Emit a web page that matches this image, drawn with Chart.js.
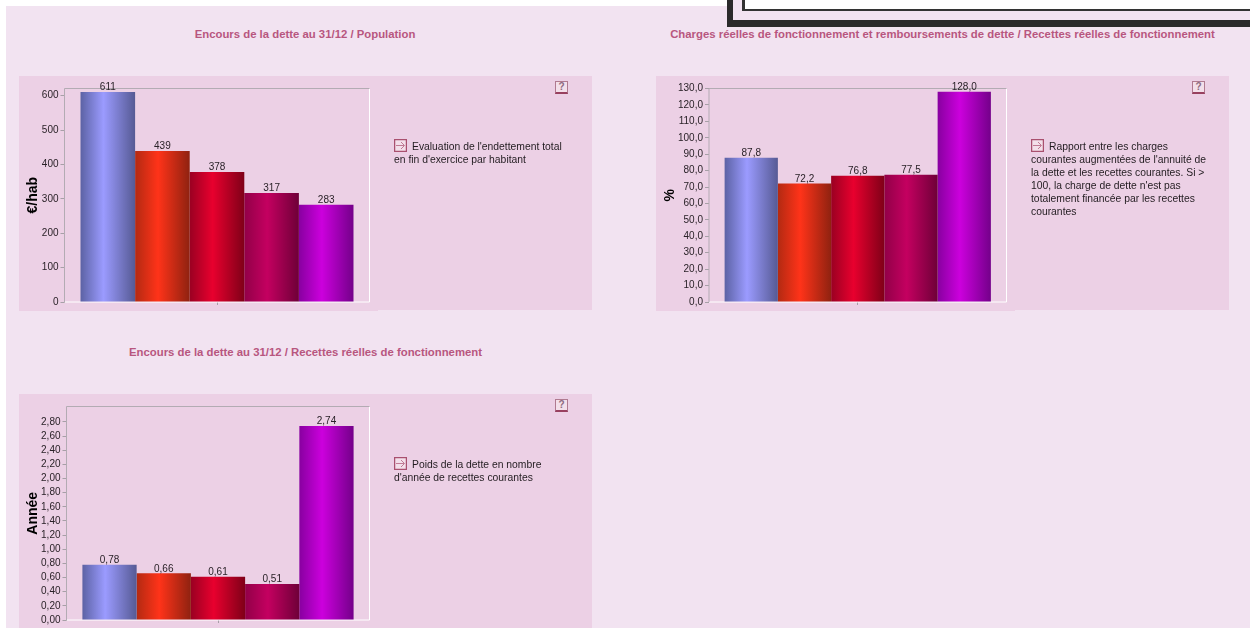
<!DOCTYPE html>
<html lang="fr">
<head>
<meta charset="utf-8">
<title>Dette</title>
<script src="https://cdn.jsdelivr.net/npm/chart.js@4"></script>
<style>
  html, body { margin: 0; background: #fff; }
  body { position: relative; width: 1250px; height: 628px; overflow: hidden; font-family: "Liberation Sans", Arial, sans-serif; }
  #page { position: absolute; left: 6px; top: 6px; width: 1244px; height: 622px; background: #f2e3f1; }
  .frame { position: absolute; box-sizing: border-box; border-style: solid; border-top: 0; border-right: 0; }
  #frameOuter { left: 727px; top: 0; width: 523px; height: 27px; border-width: 0 0 7px 6px; border-color: #2b2a2b; background: #f2e3f1; }
  #frameInner { left: 742px; top: 0; width: 508px; height: 11px; border-width: 0 0 2px 3px; border-color: #333; background: #fff; }
  .title { position: absolute; font-weight: bold; font-size: 11.35px; line-height: 14px; color: #b8567f; white-space: nowrap; transform: translateX(-50%); }
  .panel { position: absolute; width: 573px; background: #ecd0e5; }
  .panel::after { content: ""; position: absolute; left: 0; bottom: -1px; width: 359px; height: 1px; background: #ecd0e5; }
  .panel canvas { position: absolute; left: 0; top: 0; }
  .note { position: absolute; top: 63px; font-size: 10.35px; line-height: 12.9px; color: #221c20; white-space: nowrap; }
  .note svg { width: 13px; height: 13px; vertical-align: -2px; margin-right: 5px; }
  .help { position: absolute; top: 5px; box-sizing: border-box; width: 13px; height: 13px; border: 1px solid #b07a90; border-bottom: 2px solid #98405f; background: #f3dfea; text-align: center; font-size: 10px; font-weight: bold; line-height: 10px; color: #8d6a80; }
</style>
</head>
<body>
<div id="page"></div>
<div class="frame" id="frameOuter"></div>
<div class="frame" id="frameInner"></div>

<div class="title" style="left:305px;top:27px">Encours de la dette au 31/12 / Population</div>
<div class="panel" id="p1" style="left:19px;top:76px;height:234px">
  <canvas id="chart1"></canvas>
  <div class="help" style="left:536px">?</div>
  <div class="note" style="left:375px"><svg viewBox="0 0 13 13"><rect x=".6" y=".6" width="11.8" height="11.8" fill="#f3dfea" stroke="#a9506f" stroke-width="1.3"/><path d="M2 6.5h8M7 3l3.5 3.5L7 10" fill="none" stroke="#c07a94"/></svg>Evaluation de l'endettement total<br>en fin d'exercice par habitant</div>
</div>

<div class="title" style="left:942.5px;top:27px">Charges réelles de fonctionnement et remboursements de dette / Recettes réelles de fonctionnement</div>
<div class="panel" id="p2" style="left:656px;top:76px;height:234px">
  <canvas id="chart2"></canvas>
  <div class="help" style="left:536px">?</div>
  <div class="note" style="left:375px"><svg viewBox="0 0 13 13"><rect x=".6" y=".6" width="11.8" height="11.8" fill="#f3dfea" stroke="#a9506f" stroke-width="1.3"/><path d="M2 6.5h8M7 3l3.5 3.5L7 10" fill="none" stroke="#c07a94"/></svg>Rapport entre les charges<br>courantes augmentées de l'annuité de<br>la dette et les recettes courantes. Si &gt;<br>100, la charge de dette n'est pas<br>totalement financée par les recettes<br>courantes</div>
</div>

<div class="title" style="left:305.5px;top:345px">Encours de la dette au 31/12 / Recettes réelles de fonctionnement</div>
<div class="panel" id="p3" style="left:19px;top:394px;height:234px">
  <canvas id="chart3"></canvas>
  <div class="help" style="left:536px">?</div>
  <div class="note" style="left:375px"><svg viewBox="0 0 13 13"><rect x=".6" y=".6" width="11.8" height="11.8" fill="#f3dfea" stroke="#a9506f" stroke-width="1.3"/><path d="M2 6.5h8M7 3l3.5 3.5L7 10" fill="none" stroke="#c07a94"/></svg>Poids de la dette en nombre<br>d'année de recettes courantes</div>
</div>

<script>
const categories = ['']

const perCapita = [611, 439, 378, 317, 283]
const perCapitaTicks = [0, 100, 200, 300, 400, 500, 600]

const chargesRatio = [87.8, 72.2, 76.8, 77.5, 128.0]
const chargesTicks = [0, 10, 20, 30, 40, 50, 60, 70, 80, 90, 100, 110, 120, 130]

const debtYears = [0.78, 0.66, 0.61, 0.51, 2.74]
const debtTicks = [0, 0.2, 0.4, 0.6, 0.8, 1, 1.2, 1.4, 1.6, 1.8, 2, 2.2, 2.4, 2.6, 2.8]

// edge, bright, edge for each of the 5 bars
const barShades = [
  ['#5c62a4', '#9b9bff', '#565a94'],
  ['#b32a12', '#ff3319', '#8f2210'],
  ['#9a0022', '#e8002e', '#7f0018'],
  ['#920048', '#c40060', '#6e0038'],
  ['#8800a0', '#cc00dd', '#74008a']
]

const groupShare = 0.895
const fontName = '"Liberation Sans", Arial, sans-serif'

function frFormat(v, digits) {
  return v.toFixed(digits).replace('.', ',')
}

function barGradient(ctx, i) {
  const area = ctx.chart.chartArea
  const shades = barShades[i]
  if (!area) return shades[1]
  const barW = area.width * groupShare / barShades.length
  const x0 = area.left + area.width * (1 - groupShare) / 2 + i * barW
  const g = ctx.chart.ctx.createLinearGradient(x0, 0, x0 + barW, 0)
  g.addColorStop(0, shades[0])
  g.addColorStop(0.42, shades[1])
  g.addColorStop(1, shades[2])
  return g
}

// plot frame: grey on top and left, white on right and bottom
const plotFrame = {
  id: 'plotFrame',
  beforeDatasetsDraw(chart) {
    const { ctx, chartArea: a } = chart
    ctx.save()
    ctx.lineWidth = 1
    ctx.strokeStyle = '#fff'
    ctx.beginPath()
    ctx.moveTo(a.right, a.top)
    ctx.lineTo(a.right, a.bottom)
    ctx.lineTo(a.left, a.bottom)
    ctx.stroke()
    ctx.strokeStyle = '#b3abb3'
    ctx.beginPath()
    ctx.moveTo(a.left, a.bottom)
    ctx.lineTo(a.left, a.top)
    ctx.lineTo(a.right, a.top)
    ctx.stroke()
    ctx.restore()
  }
}

const valueLabels = {
  id: 'valueLabels',
  afterDatasetsDraw(chart, args, opts) {
    const { ctx } = chart
    ctx.save()
    ctx.font = '10px ' + fontName
    ctx.fillStyle = '#2a2228'
    ctx.textAlign = 'center'
    ctx.textBaseline = 'bottom'
    chart.data.datasets.forEach((ds, i) => {
      const bar = chart.getDatasetMeta(i).data[0]
      ctx.fillText(frFormat(ds.data[0], opts.digits), bar.x, bar.y + 0.5)
    })
    ctx.restore()
  }
}

function drawChart(id, values, ticks, yMax, digits, unit, axisW, plotRight, plotTop, plotBottom) {
  const canvas = document.getElementById(id)
  const panelH = canvas.parentNode.clientHeight
  canvas.width = 573
  canvas.height = panelH
  canvas.style.width = '573px'
  canvas.style.height = panelH + 'px'
  return new Chart(canvas, {
    type: 'bar',
    data: {
      labels: categories,
      datasets: values.map((v, i) => ({
        data: [v],
        backgroundColor: ctx => barGradient(ctx, i),
        barPercentage: 1,
        categoryPercentage: groupShare
      }))
    },
    options: {
      responsive: false,
      animation: false,
      layout: { padding: { left: 0, right: 573 - plotRight, top: plotTop, bottom: 0 } },
      plugins: {
        legend: { display: false },
        tooltip: { enabled: false },
        valueLabels: { digits }
      },
      scales: {
        x: {
          grid: { offset: false, drawOnChartArea: false, color: '#a79fa7', tickLength: 3 },
          border: { display: false },
          ticks: { display: false },
          afterFit: s => { s.height = panelH - plotBottom }
        },
        y: {
          min: 0,
          max: yMax,
          afterBuildTicks: s => { s.ticks = ticks.map(value => ({ value })) },
          afterFit: s => { s.width = axisW },
          grid: { drawOnChartArea: false, color: '#a79fa7', tickLength: 4 },
          border: { display: false },
          ticks: {
            autoSkip: false,
            padding: 2,
            color: '#2a2228',
            font: { family: fontName, size: 10 },
            callback: v => frFormat(v, digits)
          },
          title: {
            display: true,
            text: unit,
            color: '#000',
            font: { family: fontName, size: 14, weight: 'bold' },
            padding: { top: 5.5, bottom: 0 }
          }
        }
      }
    },
    plugins: [plotFrame, valueLabels]
  })
}

drawChart('chart1', perCapita, perCapitaTicks, 621, 0, '€/hab', 45.5, 350.5, 12.5, 227)
drawChart('chart2', chargesRatio, chargesTicks, 130, 1, '%', 53, 350.5, 12.5, 227)
drawChart('chart3', debtYears, debtTicks, 3.017, 2, 'Année', 47.5, 350.5, 12.5, 227)
</script>
</body>
</html>
